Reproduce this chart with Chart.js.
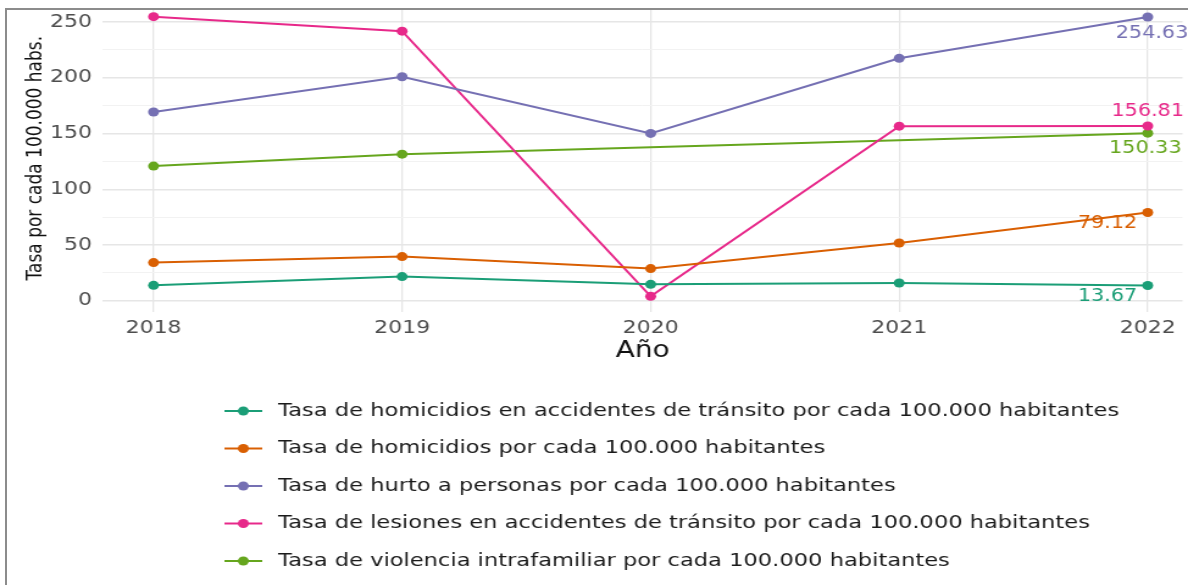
<!DOCTYPE html>
<html>
<head>
<meta charset="utf-8">
<script src="https://cdn.jsdelivr.net/npm/chart.js@4/dist/chart.umd.min.js"></script>
<style>
html,body{margin:0;padding:0;background:#fff;overflow:hidden;width:1188px;height:585px}
#wrap{position:absolute;left:0;top:0;width:974px;height:585px;transform:scaleX(1.2197);transform-origin:0 0}
#maskTop{position:absolute;left:0;top:0;width:1188px;height:8px;background:#fff}
#maskLeft{position:absolute;left:0;top:0;width:5px;height:585px;background:#fff}
#frame{position:absolute;left:5px;top:8px;width:1200px;height:600px;border-left:2.5px solid #8c8c8c;border-top:2.5px solid #8c8c8c}
</style>
</head>
<body>
<div id="wrap"><canvas id="chart"></canvas></div>
<div id="maskTop"></div>
<div id="maskLeft"></div>
<div id="frame"></div>
<script>
// data
const years=[2018,2019,2020,2021,2022]
const seriesNames=[
 "Tasa de homicidios en accidentes de tránsito por cada 100.000 habitantes",
 "Tasa de homicidios por cada 100.000 habitantes",
 "Tasa de hurto a personas por cada 100.000 habitantes",
 "Tasa de lesiones en accidentes de tránsito por cada 100.000 habitantes",
 "Tasa de violencia intrafamiliar por cada 100.000 habitantes"
]
const homTransito=[13.8,21.6,14.7,15.9,13.67]
const homicidios=[34.2,39.6,28.8,51.8,79.12]
const hurto=[169.3,201.0,150.1,217.5,254.63]
const lesiones=[254.9,241.9,3.9,156.6,156.81]
const violencia=[120.8,131.5,null,null,150.33]
const yTicks=[0,50,100,150,200,250]

const colors=["#1B9E77","#D95F02","#7570B3","#E7298A","#66A61E"]
// where the last-value label sits relative to its point
const labelOffsets=[[-33,11.5],[-33,11],[3.5,16.5],[0,-14.5],[-2,15]]
const FONT="'DejaVu Sans'"

const allSeries=[homTransito,homicidios,hurto,lesiones,violencia]

const endLabels={
 id:"endLabels",
 afterDatasetsDraw(chart){
  const ctx=chart.ctx
  chart.data.datasets.forEach((ds,i)=>{
   const n=ds.data.length-1
   const pt=chart.getDatasetMeta(i).data[n]
   const off=labelOffsets[i]
   ctx.save()
   ctx.font="17px "+FONT
   ctx.fillStyle=ds.borderColor
   ctx.textAlign="center"
   ctx.textBaseline="middle"
   ctx.fillText(ds.data[n].y.toFixed(2),pt.x+off[0],pt.y+off[1])
   ctx.restore()
  })
 }
}

const legendRows={
 id:"legendRows",
 afterDraw(chart){
  const ctx=chart.ctx
  chart.data.datasets.forEach((ds,i)=>{
   const y=411+i*37.5
   ctx.save()
   ctx.strokeStyle=ds.borderColor
   ctx.lineWidth=2
   ctx.beginPath()
   ctx.moveTo(184,y)
   ctx.lineTo(215,y)
   ctx.stroke()
   ctx.fillStyle=ds.borderColor
   ctx.beginPath()
   ctx.arc(199.5,y,4.5,0,Math.PI*2)
   ctx.fill()
   ctx.font="18.5px "+FONT
   ctx.fillStyle="#1a1a1a"
   ctx.textAlign="left"
   ctx.textBaseline="middle"
   ctx.fillText(ds.label,228,y)
   ctx.restore()
  })
 }
}

new Chart(document.getElementById("chart"),{
 type:"line",
 data:{
  datasets:allSeries.map((vals,i)=>({
   label:seriesNames[i],
   data:years.map((yr,j)=>({x:yr,y:vals[j]})),
   borderColor:colors[i],
   backgroundColor:colors[i],
   pointBackgroundColor:colors[i],
   borderWidth:2,
   pointRadius:4.5,
   pointBorderWidth:0,
   spanGaps:true,
   fill:false,
   tension:0
  }))
 },
 options:{
  responsive:true,
  maintainAspectRatio:false,
  animation:false,
  layout:{padding:{top:0,left:0,right:0,bottom:220}},
  plugins:{legend:{display:false},tooltip:{enabled:false}},
  scales:{
   x:{
    type:"linear",
    bounds:"data",
    min:2017.7963,
    max:2022.1399,
    afterBuildTicks(s){ s.ticks=years.map(v=>({value:v})) },
    afterFit(s){ s.height=53; s.paddingLeft=0; s.paddingRight=0 },
    ticks:{padding:6,color:"#4d4d4d",font:{family:FONT,size:18},callback:v=>String(v)},
    grid:{color:"#e6e6e6",lineWidth:1.3,drawTicks:false},
    border:{display:false},
    title:{display:true,text:"Año",color:"#111",font:{family:FONT,size:23},padding:0}
   },
   y:{
    type:"linear",
    bounds:"data",
    min:-10.15,
    max:265.8,
    afterBuildTicks(s){
     const t=[]
     yTicks.forEach((v,i)=>{
      t.push({value:v})
      if(i<yTicks.length-1) t.push({value:(v+yTicks[i+1])/2})
     })
     s.ticks=t
    },
    afterFit(s){ s.width=84.4; s.paddingTop=0; s.paddingBottom=0 },
    ticks:{padding:9,color:"#4d4d4d",font:{family:FONT,size:18},callback:v=>yTicks.includes(v)?String(v):""},
    grid:{
     color:c=>yTicks.includes(c.tick&&c.tick.value)?"#e6e6e6":"#f2f2f2",
     lineWidth:c=>yTicks.includes(c.tick&&c.tick.value)?1.5:1,
     drawTicks:false
    },
    border:{display:false},
    title:{display:true,text:"Tasa por cada 100.000 habs.",color:"#111",font:{family:FONT,size:17},padding:{top:19,bottom:0}}
   }
  }
 },
 plugins:[endLabels,legendRows]
})
</script>
</body>
</html>
